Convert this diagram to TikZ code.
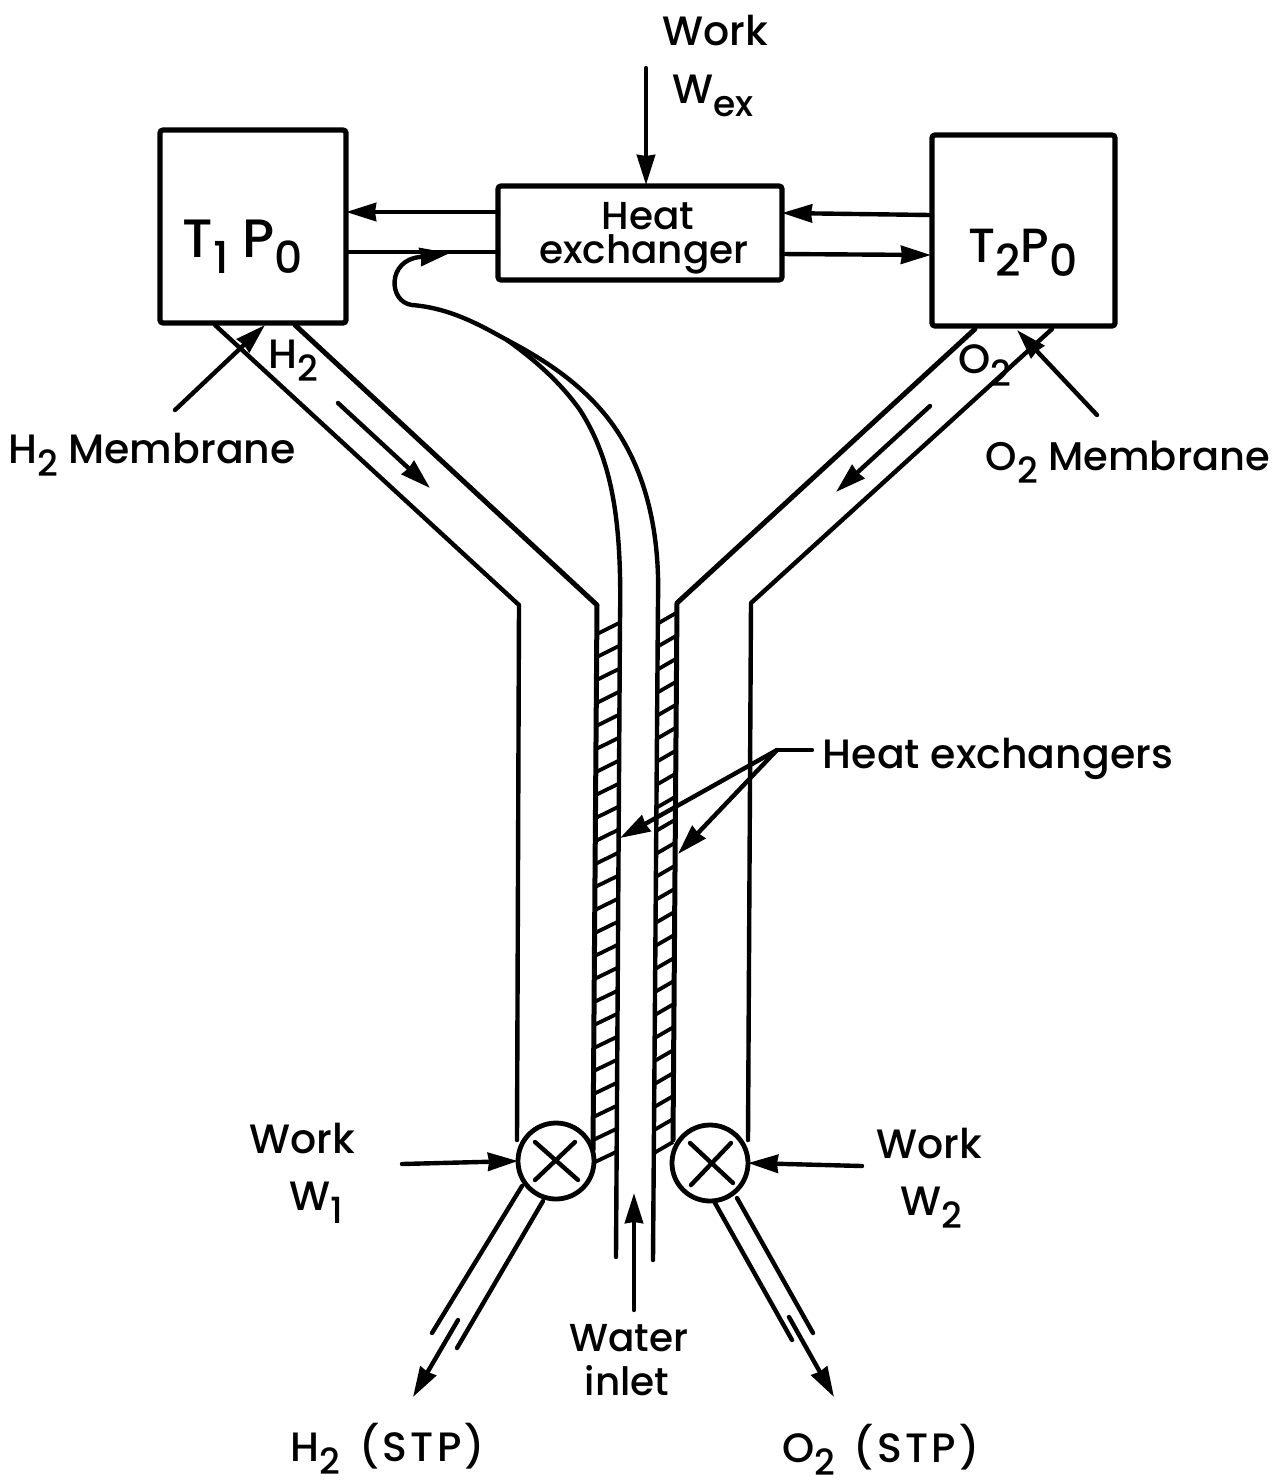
\documentclass[tikz,border=0pt]{standalone}
\usepackage{fontspec}
\usetikzlibrary{arrows.meta}
\setmainfont{Poppins Medium}
\newcommand\subs[1]{\raisebox{-0.33em}{\fontsize{18}{18}\selectfont #1}}
\newcommand\subb[1]{\raisebox{-0.3em}{\fontsize{22}{22}\selectfont #1}}
\newcommand\sptext[1]{{\addfontfeature{LetterSpace=8}#1}}
\tikzset{
  wall/.style={line width=2.2pt,line cap=round,line join=round},
  hatchline/.style={line width=1.9pt},
  boxed/.style={draw,line width=2.6pt,rounded corners=1.5pt,inner sep=0pt,outer sep=0pt},
  valve/.style={draw,circle,fill=white,line width=2.4pt,minimum size=38pt,inner sep=0pt,outer sep=0pt},
  flow/.style={wall,-{Stealth[length=15pt,width=9pt,inset=0.5pt]}},
  lab/.style={anchor=base,inner sep=0pt,font=\fontsize{20.5}{24}\selectfont},
  smalllab/.style={anchor=base,inner sep=0pt,font=\fontsize{19.5}{24}\selectfont},
  biglab/.style={anchor=base,inner sep=0pt,font=\fontsize{27}{30}\selectfont},
}
\begin{document}
\begin{tikzpicture}[x=0.5pt,y=-0.5pt]
\useasboundingbox (0,0) rectangle (1277,1480);
% boxes
\node[boxed,minimum width=93pt,minimum height=96.5pt] (t1) at (253,226.5) {};
\node[boxed,minimum width=91.5pt,minimum height=95.5pt] (t2) at (1023.5,230.5) {};
\node[boxed,minimum width=142pt,minimum height=47pt] (hx) at (640,233) {};
% named ends
\coordinate (wexTop) at (646,68);
\coordinate (wexEnd) at (646,185);
\coordinate (hxLa) at (498,212); \coordinate (t1a) at (346,212);
\coordinate (hxLb) at (498,252); \coordinate (t1b) at (347,252);
\coordinate (t2a) at (931,215); \coordinate (hxRa) at (782,213);
\coordinate (hxRb) at (782,254); \coordinate (t2b) at (931,255);
% pipes
\coordinate (pa1) at (215,325); \coordinate (pa2) at (519,605); \coordinate (pa3) at (517,1140);
\coordinate (pb1) at (295,325); \coordinate (pb2) at (597,605); \coordinate (pb3) at (593,1150);
\coordinate (qa1) at (1052,329); \coordinate (qa2) at (751,603); \coordinate (qa3) at (748,1140);
\coordinate (qb1) at (975,329); \coordinate (qb2) at (677,603); \coordinate (qb3) at (673,1140);
\draw[wall] (pa1) -- (pa2) -- (pa3);
\draw[wall,line width=2.5pt] (pb1) -- (pb2) -- (pb3);
\draw[wall] (qa1) -- (qa2) -- (qa3);
\draw[wall,line width=2.5pt] (qb1) -- (qb2) -- (qb3);
% tube walls and the curved water tube
\coordinate (ta) at (653,1260); \coordinate (tb) at (658,600); \coordinate (tc) at (607,417);
\coordinate (td) at (507,340); \coordinate (te) at (412,305); \coordinate (tf) at (420,257); \coordinate (tg) at (450,253);
\draw[flow] (ta) -- (tb) .. controls (660,530) and (645,465) .. (tc) .. controls (580,383) and (545,360) .. (td) .. controls (480,325) and (450,308) .. (te) .. controls (388,302) and (387,260) .. (tf) -- (tg);
\coordinate (ua) at (616,1257); \coordinate (ub) at (620,620); \coordinate (uc) at (580,410);
\draw[wall] (ua) -- (ub) .. controls (622,520) and (612,460) .. (uc) .. controls (560,382) and (535,360) .. (td);
% hatching
\foreach \i in {0,...,23}{
  \pgfmathsetmacro\ya{623+23*\i}
  \pgfmathsetmacro\yb{613+23*\i}
  \pgfmathsetmacro\xa{597-4*\i/23}
  \pgfmathsetmacro\xb{619-3*\i/23}
  \pgfmathsetmacro\xc{657-3*\i/23}
  \pgfmathsetmacro\xd{676-3*\i/23}
  \draw[hatchline] (\xa,\ya+11) -- (\xb,\ya);
  \draw[hatchline] (\xc,\yb+11) -- (\xd,\yb);
}
% valves
\node[valve] (v1) at (556,1161) {};
\node[valve] (v2) at (710,1163) {};
\draw[wall] (535,1142) -- (578,1180) (575,1142) -- (535,1180);
\draw[wall] (690,1143) -- (733,1183) (731,1143) -- (691,1185);
% connectors at the top
\draw[flow] (wexTop) -- (wexEnd);
\draw[flow] (hxLa) -- (t1a);
\draw[wall] (t1b) -- (hxLb);
\draw[flow] (t2a) -- (hxRa);
\draw[flow] (hxRb) -- (t2b);
% membranes
\coordinate (m1a) at (175,410); \coordinate (m1b) at (265,325);
\coordinate (m2a) at (1097,415); \coordinate (m2b) at (1017,330);
\draw[flow] (m1a) -- (m1b);
\draw[flow] (m2a) -- (m2b);
% flow in pipes
\coordinate (f1a) at (338,403); \coordinate (f1b) at (430,488);
\coordinate (f2a) at (930,406); \coordinate (f2b) at (836,492);
\draw[flow] (f1a) -- (f1b);
\draw[flow] (f2a) -- (f2b);
% work arrows
\coordinate (w1a) at (402,1164); \coordinate (w2a) at (862,1166);
\draw[flow] (w1a) -- (v1.west);
\draw[flow] (w2a) -- (v2.east);
% outlets
\coordinate (o1a) at (522,1186); \coordinate (o1b) at (432,1333);
\coordinate (o2a) at (543,1201); \coordinate (o2b) at (457,1348);
\coordinate (o3a) at (458,1320); \coordinate (o3b) at (413,1397);
\coordinate (r1a) at (715,1203); \coordinate (r1b) at (792,1340);
\coordinate (r2a) at (737,1198); \coordinate (r2b) at (813,1333);
\coordinate (r3a) at (789,1317); \coordinate (r3b) at (834,1397);
\draw[wall] (o1a) -- (o1b);
\draw[wall] (o2a) -- (o2b);
\draw[flow] (o3a) -- (o3b);
\draw[wall] (r1a) -- (r1b);
\draw[wall] (r2a) -- (r2b);
\draw[flow] (r3a) -- (r3b);
% water inlet
\coordinate (ina) at (634,1310); \coordinate (inb) at (634,1193);
\draw[flow] (ina) -- (inb);
% leaders
\coordinate (la) at (812,750); \coordinate (lb) at (777,750);
\coordinate (lc) at (620,838); \coordinate (ld) at (678,854);
\draw[wall] (la) -- (lb);
\draw[flow] (lb) -- (lc);
\draw[flow] (lb) -- (ld);
% labels
\node[lab] (work0) at (715,45) {Work};
\node[lab] (wex) at (713,103) {W\subs{ex}};
\node[smalllab] (heat) at (648,229) {Heat};
\node[smalllab] (exch) at (644,263) {exchanger};
\node[biglab] (t1lab) at (243,257) {T\subb{1} P\subb{0}};
\node[biglab,font=\fontsize{24}{30}\selectfont] (t2lab) at (1023,262) {T\subb{2}P\subb{0}};
\node[lab] (h2in) at (293,368) {H\subs{2}};
\node[lab] (o2in) at (985,373) {O\subs{2}};
\node[lab] (h2m) at (152,463) {H\subs{2} Membrane};
\node[smalllab,font=\fontsize{20}{24}\selectfont] (o2m) at (1128,470) {O\subs{2} Membrane};
\node[lab] (hxs) at (998,768) {Heat exchangers};
\node[lab] (work1) at (302,1153) {Work};
\node[lab] (w1) at (316,1210) {W\subs{1}};
\node[lab] (work2) at (929,1158) {Work};
\node[lab] (w2) at (931,1215) {W\subs{2}};
\node[smalllab] (water) at (629,1351) {Water};
\node[smalllab] (inlet) at (627,1395) {inlet};
\node[lab] (h2s) at (388,1461) {H\subs{2}\hspace{4pt} \sptext{(STP)}};
\node[lab] (o2s) at (881,1462) {O\subs{2}\hspace{4pt} \sptext{(STP)}};
\end{tikzpicture}
\end{document}
